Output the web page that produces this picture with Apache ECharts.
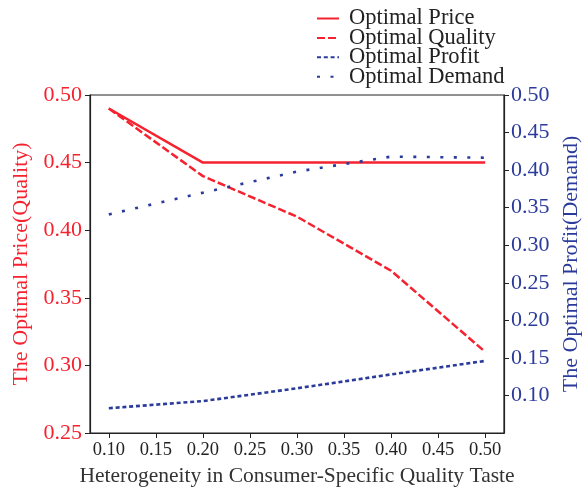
<!DOCTYPE html>
<html>
<head>
<meta charset="utf-8">
<script src="https://cdn.jsdelivr.net/npm/echarts@6/dist/echarts.min.js"></script>
<style>
html,body{margin:0;padding:0;background:#fff;}
#chart{width:585px;height:489px;}
</style>
</head>
<body>
<div id="chart"></div>
<script>
const xValues = [0.1, 0.2, 0.3, 0.4, 0.5];
const priceValues = [0.49, 0.45, 0.45, 0.45, 0.45];
const qualityValues = [0.49, 0.44, 0.41, 0.37, 0.31];
const profitValues = [0.083, 0.0925, 0.1095, 0.128, 0.146];
const demandValues = [0.341, 0.370, 0.398, 0.418, 0.4165];
const xTicks = [0.1, 0.15, 0.2, 0.25, 0.3, 0.35, 0.4, 0.45, 0.5];
const leftTicks = [0.25, 0.3, 0.35, 0.4, 0.45, 0.5];
const rightTicks = [0.1, 0.15, 0.2, 0.25, 0.3, 0.35, 0.4, 0.45, 0.5];

const RED = '#f5222f';
const BLUE = '#2b3b9c';
const FONT = "'Liberation Serif', 'Times New Roman', serif";
const pair = (xs, ys) => xs.map((x, i) => [x, ys[i]]);

const chart = echarts.init(document.getElementById('chart'), null, {renderer: 'canvas'});
chart.setOption({
  animation: false,
  backgroundColor: '#fff',
  textStyle: {fontFamily: FONT},
  grid: {left: 90, right: 81, top: 95, bottom: 56, containLabel: false, outerBoundsMode: 'none',
    show: true, borderColor: '#222', borderWidth: 1.2, backgroundColor: 'transparent'},
  legend: {
    orient: 'vertical', left: 311, top: 2,
    itemWidth: 22, itemHeight: 14, itemGap: -3.6,
    itemStyle: {opacity: 0},
    textStyle: {fontFamily: FONT, fontSize: 22.5, color: '#222', padding: [0,0,0,5]},
    data: ['Optimal Price', 'Optimal Quality', 'Optimal Profit', 'Optimal Demand']
  },
  xAxis: {
    type: 'value', min: 0.08, max: 0.52,
    name: 'Heterogeneity in Consumer-Specific Quality Taste',
    nameLocation: 'middle', nameGap: 24,
    nameTextStyle: {fontFamily: FONT, fontSize: 21.5, color: '#333'},
    axisLine: {show: true, lineStyle: {color: '#222', width: 1.2}},
    axisTick: {show: true, length: 5, lineStyle: {color: '#222'}, customValues: xTicks},
    axisLabel: {fontFamily: FONT, fontSize: 18.5, color: '#222', margin: 8, customValues: xTicks,
      formatter: v => v.toFixed(2)},
    splitLine: {show: false}
  },
  yAxis: [{
    type: 'value', min: 0.25, max: 0.5, interval: 0.05, position: 'left',
    name: 'The Optimal Price(Quality)', nameLocation: 'middle', nameRotate: 90, nameGap: 54,
    nameTextStyle: {fontFamily: FONT, fontSize: 22, color: RED},
    axisLine: {show: true, lineStyle: {color: '#222', width: 1.2}},
    axisTick: {show: true, length: 5, lineStyle: {color: '#222'}},
    axisLabel: {fontFamily: FONT, fontSize: 22, color: RED, margin: 8, formatter: v => v.toFixed(2)},
    splitLine: {show: false}
  }, {
    type: 'value', min: 0.05, max: 0.5, interval: 0.05, position: 'right',
    name: 'The Optimal Profit(Demand)', nameLocation: 'middle', nameRotate: 90, nameGap: 54,
    nameTextStyle: {fontFamily: FONT, fontSize: 22, color: BLUE},
    axisLine: {show: true, lineStyle: {color: '#222', width: 1.2}},
    axisTick: {show: true, length: 5, lineStyle: {color: '#222'}, customValues: rightTicks},
    axisLabel: {fontFamily: FONT, fontSize: 22, color: BLUE, margin: 7, customValues: rightTicks,
      formatter: v => v.toFixed(2)},
    splitLine: {show: false}
  }],
  series: [{
    name: 'Optimal Price', type: 'line', yAxisIndex: 0, data: pair(xValues, priceValues),
    symbol: 'none', lineStyle: {color: RED, width: 2.5, type: 'solid'}, itemStyle: {color: RED}
  }, {
    name: 'Optimal Quality', type: 'line', yAxisIndex: 0, data: pair(xValues, qualityValues),
    symbol: 'none', lineStyle: {color: RED, width: 2.5, type: [8, 3]}, itemStyle: {color: RED}
  }, {
    name: 'Optimal Profit', type: 'line', yAxisIndex: 1, data: pair(xValues, profitValues),
    symbol: 'none', lineStyle: {color: BLUE, width: 2.6, type: [4, 2.8]}, itemStyle: {color: BLUE}
  }, {
    name: 'Optimal Demand', type: 'line', yAxisIndex: 1, data: pair(xValues, demandValues),
    symbol: 'none', lineStyle: {color: BLUE, width: 2.6, type: [3, 10.5]}, itemStyle: {color: BLUE}
  }]
});
</script>
</body>
</html>
